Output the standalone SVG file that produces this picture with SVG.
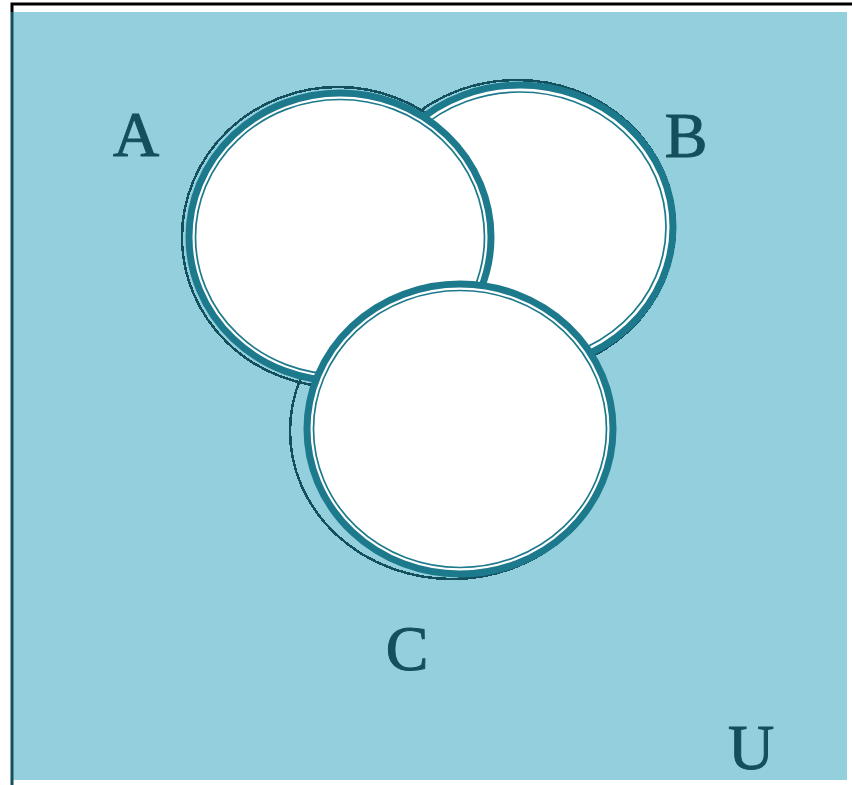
<svg xmlns="http://www.w3.org/2000/svg" width="852" height="785" viewBox="0 0 852 785">
<style>
.shadow{fill:none;stroke:#134F5C;stroke-width:2.5;shape-rendering:crispEdges}
.ring{fill:#FFFFFF;stroke:#1D7A8C;stroke-width:7}
.inner{fill:none;stroke:#1D7A8C;stroke-width:1.7}
.lbl{font-family:"Liberation Serif","Times New Roman",serif;font-size:64px;fill:#134F5C;stroke:#134F5C;stroke-width:1;text-anchor:middle}
</style>
<rect x="12" y="12" width="835" height="768" fill="#94CFDD"/>
<path d="M12 12 V4 H852" fill="none" stroke="#000000" stroke-width="3"/>
<line x1="12" y1="12" x2="12" y2="785" stroke="#134F5C" stroke-width="3"/>
<g id="shadows">
<ellipse class="shadow" cx="338" cy="237" rx="156" ry="150"/>
<ellipse class="shadow" cx="517" cy="227" rx="158" ry="147"/>
<ellipse class="shadow" cx="452" cy="431" rx="162" ry="148"/>
</g>
<g id="B">
<ellipse class="ring" cx="520" cy="227" rx="153" ry="142"/>
<ellipse class="inner" cx="520" cy="227" rx="146" ry="135"/>
</g>
<g id="A">
<ellipse class="ring" cx="340" cy="237" rx="151" ry="144"/>
<ellipse class="inner" cx="340" cy="237" rx="144.5" ry="137.5"/>
</g>
<g id="C">
<ellipse class="ring" cx="460" cy="429" rx="153" ry="145"/>
<ellipse class="inner" cx="460" cy="429" rx="146.5" ry="138.5"/>
</g>
<g id="labels">
<text class="lbl" x="136" y="156">A</text>
<text class="lbl" x="686" y="157">B</text>
<text class="lbl" x="407" y="670">C</text>
<text class="lbl" x="751" y="769">U</text>
</g>
</svg>
